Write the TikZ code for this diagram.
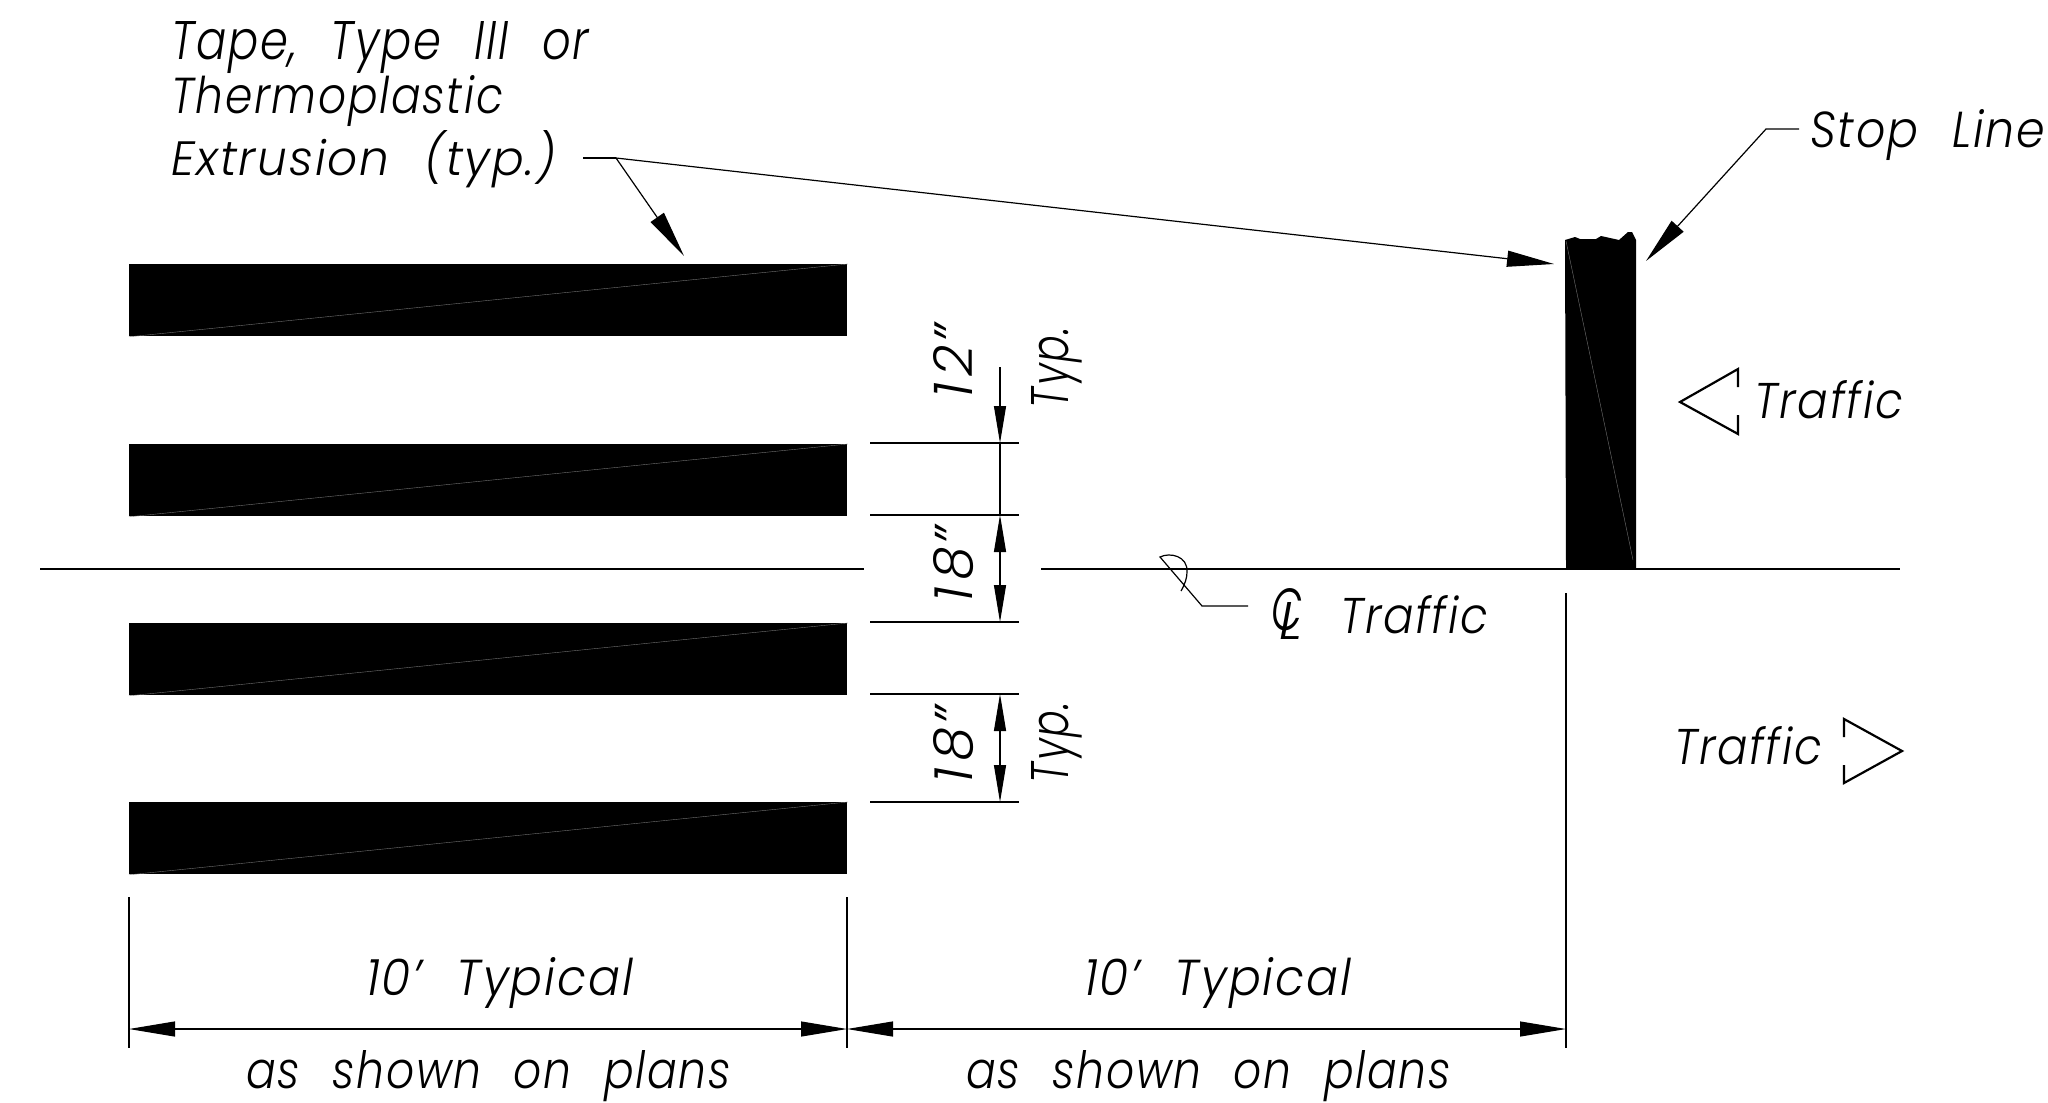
\documentclass[tikz,border=0pt]{standalone}
\usepackage{fontspec}
\usepackage{graphicx}
\setmainfont{Poppins}[UprightFont=* Light, ItalicFont=* Light Italic, LetterSpace=4, WordSpace=2.2]
\usetikzlibrary{arrows.meta}
\newlength{\pxu}\setlength{\pxu}{0.5pt}
\newcommand{\fitbox}[3]{\resizebox{#1\pxu}{#2\pxu}{\fontsize{30pt}{30pt}\selectfont\itshape #3}}
\tikzset{
  lbl/.style={anchor=base west,inner sep=0pt,outer sep=0pt},
  rlbl/.style={lbl,rotate=90},
  bar/.style={fill=black,draw=none,anchor=north west,inner sep=0pt,minimum width=359pt,minimum height=36pt},
  thin line/.style={line width=0.6pt},
  hair/.style={line width=0.2pt,color=black!55},
  sym/.style={line width=1.1pt,line join=miter},
  lead/.style={thin line,-{Triangle[length=23.5pt,width=8pt]}},
  dimh/.style={thin line,{Triangle[length=23pt,width=7.5pt]}-{Triangle[length=23pt,width=7.5pt]}},
  dimv/.style={thin line,{Triangle[length=18.5pt,width=6pt]}-{Triangle[length=18.5pt,width=6pt]}},
  dimvend/.style={thin line,-{Triangle[length=18.5pt,width=6pt]}}
}
\begin{document}
\begin{tikzpicture}[x=0.5pt,y=-0.5pt]
\useasboundingbox (0,0) rectangle (2048,1102);
% bars
\node[bar] (bar1) at (129,264) {};
\node[bar] (bar2) at (129,444) {};
\node[bar] (bar3) at (129,623) {};
\node[bar] (bar4) at (129,802) {};
\foreach \b in {bar1,bar2,bar3,bar4} \draw[hair] (\b.south west) -- (\b.north east);
% centre line
\coordinate (cl0) at (40,569);
\coordinate (cl1) at (864,569);
\coordinate (cl2) at (1041,569);
\coordinate (cl3) at (1900,569);
\draw[thin line] (cl0) -- (cl1);
\draw[thin line] (cl2) -- (cl3);
% stop line
\fill[black] (1565,240) -- (1575,237) -- (1580,239) -- (1596,239) -- (1601,236) -- (1619,240) -- (1628,232) -- (1632,232) -- (1636,240) -- (1636,569) -- (1566,569) -- cycle;
\draw[hair] (1566,241) -- (1633,560);
% tape leader
\coordinate (tl0) at (583,158);
\coordinate (tl1) at (616,158);
\coordinate (tl2) at (684,256);
\coordinate (tl3) at (1554,264);
\draw[thin line] (tl0) -- (tl1);
\draw[lead] (tl1) -- (tl2);
\draw[lead] (tl1) -- (tl3);
% stop leader
\coordinate (sl0) at (1799,129);
\coordinate (sl1) at (1766,129);
\coordinate (sl2) at (1646,261);
\draw[lead] (sl0) -- (sl1) -- (sl2);
% CL leader
\coordinate (cb0) at (1248,606);
\coordinate (cb1) at (1202,606);
\coordinate (cb2) at (1160,557);
\draw[thin line] (cb0) -- (cb1) -- (cb2) .. controls (1170,552) and (1188,556) .. (1187,572) .. controls (1187,578) and (1185,584) .. (1181,591);
% vertical dims
\foreach \n/\y in {e1/443,e2/515,e3/622,e4/694,e5/802}{
  \coordinate (\n a) at (870,\y);
  \coordinate (\n b) at (1019,\y);
  \coordinate (\n c) at (1000,\y);
  \draw[thin line] (\n a) -- (\n b);
}
\coordinate (d0) at (1000,367);
\draw[dimvend] (d0) -- (e1c);
\draw[thin line] (e1c) -- (e2c);
\draw[dimv] (e2c) -- (e3c);
\draw[dimv] (e4c) -- (e5c);
% bottom dims
\coordinate (x1a) at (129,897); \coordinate (x1b) at (129,1048); \coordinate (x1c) at (129,1029);
\coordinate (x2a) at (847,897); \coordinate (x2b) at (847,1048); \coordinate (x2c) at (847,1029);
\coordinate (x3a) at (1566,593); \coordinate (x3b) at (1566,1048); \coordinate (x3c) at (1566,1029);
\draw[thin line] (x1a) -- (x1b);
\draw[thin line] (x2a) -- (x2b);
\draw[thin line] (x3a) -- (x3b);
\draw[dimh] (x1c) -- (x2c);
\draw[dimh] (x2c) -- (x3c);
% traffic symbols
\draw[sym] (1738,387) -- (1738,369) -- (1680,402) -- (1738,434) -- (1738,415);
\draw[sym] (1844,737) -- (1844,719) -- (1902,751) -- (1844,783) -- (1844,765);
% labels
\node[lbl] (t1) at (171,60) {\fitbox{418}{38}{Tape, Type III or}};
\node[lbl] (t2) at (171,114) {\fitbox{332}{38}{Thermoplastic}};
\node[lbl] (t3) at (171,175) {\fitbox{385}{45}{Extrusion (typ.)}};
\node[lbl] (stop) at (1810,148) {\fitbox{235}{38}{Stop Line}};
\node[lbl] (tr1) at (1754,418) {\fitbox{149}{38}{Traffic}};
\node[lbl] (tr2) at (1674,764) {\fitbox{148}{38}{Traffic}};
\node[lbl] (tr3) at (1340,633) {\fitbox{148}{38}{Traffic}};
\node[lbl] (clc) at (1271,630) {\fitbox{31}{42}{C}};
\node[lbl] (cll) at (1279,639) {\fitbox{23}{37}{L}};
\node[lbl] (w1) at (366,995) {\fitbox{267}{38}{10’ Typical}};
\node[lbl] (w2) at (1084,995) {\fitbox{267}{38}{10’ Typical}};
\node[lbl] (p1) at (246,1088) {\fitbox{485}{38}{as shown on plans}};
\node[lbl] (p2) at (966,1088) {\fitbox{485}{38}{as shown on plans}};
\node[rlbl] (a1) at (972,398) {\fitbox{73}{39}{1\kern3pt 2\kern1pt ”}};
\node[rlbl] (a2) at (972,602) {\fitbox{75}{39}{1\kern3pt 8\kern1pt ”}};
\node[rlbl] (a3) at (972,783) {\fitbox{76}{39}{1\kern3pt 8\kern1pt ”}};
\node[rlbl] (y1) at (1068,408) {\fitbox{81}{37}{Typ.}};
\node[rlbl] (y2) at (1068,783) {\fitbox{81}{37}{Typ.}};
\end{tikzpicture}
\end{document}
